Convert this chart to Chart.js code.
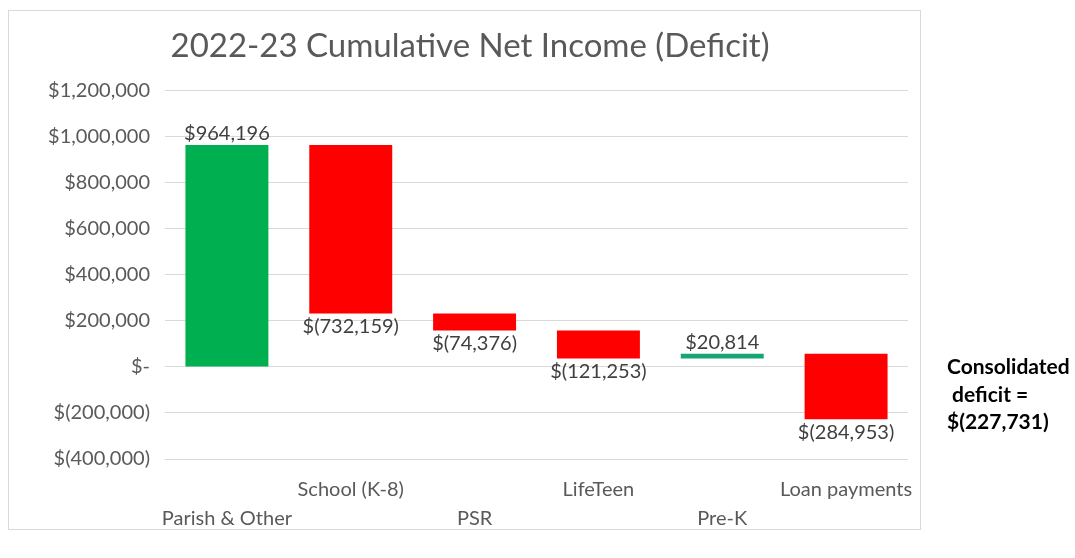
<!DOCTYPE html>
<html>
<head>
<meta charset="utf-8">
<script src="https://cdn.jsdelivr.net/npm/chart.js@4/dist/chart.umd.min.js"></script>
<style>
  body { margin: 0; background: #fff; }
  #wrap { position: relative; width: 1075px; height: 558px; }
  #frame { position: absolute; left: 8px; top: 10px; width: 913px; height: 520px; border: 1px solid #d9d9d9; box-sizing: border-box; }
  #note { position: absolute; left: 947px; top: 352px; font: bold 21px Lato, sans-serif; line-height: 27.5px; color: #000; white-space: pre; }
</style>
</head>
<body>
<div id="wrap">
  <div id="frame"></div>
  <canvas id="waterfall" width="1075" height="558"></canvas>
  <div id="note">Consolidated
 deficit =
$(227,731)</div>
</div>
<script>
const categories = ['Parish & Other', 'School (K-8)', 'PSR', 'LifeTeen', 'Pre-K', 'Loan payments'];
const changes = [964196, -732159, -74376, -121253, 20814, -284953];
const barColors = ['#00b050', '#ff0000', '#ff0000', '#ff0000', '#17a673', '#ff0000'];
const labelAbove = [true, false, false, false, true, false];
const yTicks = [1200000, 1000000, 800000, 600000, 400000, 200000, 0, -200000, -400000];

// running totals -> floating bars [start, end]
let running = 0;
const floating = changes.map(v => {
    const start = running;
    running += v;
    return [start, running];
});

function money(v) {
    if (v === 0) return '$-';
    const s = Math.abs(v).toLocaleString('en-US');
    return v < 0 ? '$(' + s + ')' : '$' + s;
}

// staggered category labels, like the original
const tickLabels = categories.map((c, i) => i % 2 === 0 ? ['', c] : [c, '']);

const valueLabels = {
    id: 'valueLabels',
    afterDatasetsDraw(chart) {
        const ctx = chart.ctx;
        const meta = chart.getDatasetMeta(0);
        ctx.save();
        ctx.font = '20px Lato, sans-serif';
        ctx.fillStyle = '#404040';
        ctx.textAlign = 'center';
        meta.data.forEach((bar, i) => {
            const top = Math.min(bar.y, bar.base);
            const bottom = Math.max(bar.y, bar.base);
            if (labelAbove[i]) {
                ctx.textBaseline = 'bottom';
                ctx.fillText(money(changes[i]), bar.x, top - 1);
            } else {
                ctx.textBaseline = 'top';
                ctx.fillText(money(changes[i]), bar.x, bottom + 3);
            }
        });
        ctx.restore();
    }
};

new Chart(document.getElementById('waterfall'), {
    type: 'bar',
    data: {
        labels: tickLabels,
        datasets: [{
            data: floating,
            backgroundColor: barColors,
            borderWidth: 0,
            categoryPercentage: 1,
            barPercentage: 0.67
        }]
    },
    options: {
        responsive: false,
        animation: false,
        layout: { padding: { top: 10, right: 167, bottom: 0, left: 32 } },
        plugins: {
            legend: { display: false },
            tooltip: { enabled: false },
            title: {
                display: true,
                text: '2022-23 Cumulative Net Income (Deficit)',
                color: '#595959',
                font: { family: 'Lato', size: 33, weight: 'normal' },
                padding: { top: 17, bottom: 24 }
            }
        },
        scales: {
            x: {
                afterFit(scale) { scale.height = 99; },
                grid: { display: false },
                border: { display: false },
                ticks: {
                    color: '#595959',
                    font: { family: 'Lato', size: 20, lineHeight: 1.45 },
                    padding: 8,
                    maxRotation: 0,
                    autoSkip: false
                }
            },
            y: {
                min: -400000,
                max: 1200000,
                afterFit(scale) { scale.width = 133; },
                afterBuildTicks(scale) { scale.ticks = yTicks.map(v => ({ value: v })); },
                grid: { color: '#d9d9d9', drawTicks: false },
                border: { display: false },
                ticks: {
                    color: '#595959',
                    font: { family: 'Lato', size: 20 },
                    padding: 15,
                    callback: v => money(v)
                }
            }
        }
    },
    plugins: [valueLabels]
});
</script>
</body>
</html>
